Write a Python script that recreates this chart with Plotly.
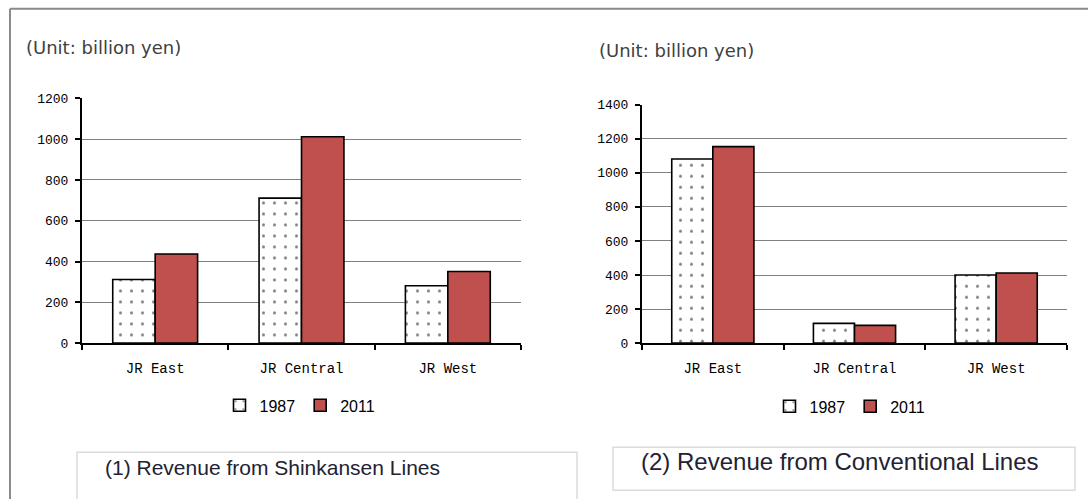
import plotly.graph_objects as go

companies = ["JR East", "JR Central", "JR West"]
years = ["1987", "2011"]

shinkansen_1987 = [312, 711, 281]
shinkansen_2011 = [437, 1012, 351]
conventional_1987 = [1081, 116, 400]
conventional_2011 = [1154, 104, 412]

W, H = 1088, 499
RED = "#C0504D"
TICK_FONT = dict(family="Liberation Mono, monospace", size=13, color="black")
CAT_FONT = dict(family="Liberation Mono, monospace", size=14, color="black")
TEXT_FONT = "Liberation Sans, Arial, sans-serif"

# the page comes out a bit squashed vertically, so positions are pre-stretched
Y_SCALE, Y_OFF = 0.971, 5.2


def px(x):
    return x / W


def py(y):
    return 1 - ((y - Y_OFF) / Y_SCALE) / H


def bar_pair(vals_old, vals_new, xa, ya, legend):
    old = go.Bar(
        x=companies, y=vals_old, name=years[0], xaxis=xa, yaxis=ya, legend=legend,
        marker=dict(
            color="white",
            line=dict(color="black", width=1.6),
            pattern=dict(shape=".", fgcolor="black", bgcolor="white", size=11, solidity=0.06),
        ),
    )
    new = go.Bar(
        x=companies, y=vals_new, name=years[1], xaxis=xa, yaxis=ya, legend=legend,
        marker=dict(color=RED, line=dict(color="black", width=1.6)),
    )
    return [old, new]


fig = go.Figure()
fig.add_traces(bar_pair(shinkansen_1987, shinkansen_2011, "x", "y", "legend"))
fig.add_traces(bar_pair(conventional_1987, conventional_2011, "x2", "y2", "legend2"))

xcommon = dict(
    type="category", showline=True, linecolor="black", linewidth=2,
    ticks="outside", tickson="boundaries", ticklen=5, tickwidth=2, tickcolor="black",
    showgrid=False, tickfont=CAT_FONT, ticklabelstandoff=11, fixedrange=True,
)
ycommon = dict(
    showline=True, linecolor="black", linewidth=2, ticks="outside", ticklen=5,
    tickwidth=2, tickcolor="black", showgrid=True, gridcolor="#808080", gridwidth=1.2,
    zeroline=False, tickfont=TICK_FONT, dtick=200, ticklabelstandoff=4,
    fixedrange=True,
)

legend_font = dict(family=TEXT_FONT, size=16, color="black")

fig.update_layout(
    width=W, height=H,
    margin=dict(l=0, r=0, t=0, b=0),
    paper_bgcolor="white", plot_bgcolor="white",
    barmode="group", bargap=0.42, bargroupgap=0,
    xaxis=dict(xcommon, domain=[px(82), px(521)], anchor="y"),
    yaxis=dict(ycommon, domain=[py(342.7), py(97.7)], range=[0, 1200], anchor="x"),
    xaxis2=dict(xcommon, domain=[px(642), px(1067)], anchor="y2"),
    yaxis2=dict(ycommon, domain=[py(342.7), py(104)], range=[0, 1400], anchor="x2"),
    legend=dict(
        orientation="h", x=px(300), y=py(405), xanchor="center", yanchor="middle",
        font=legend_font, itemwidth=30, bgcolor="rgba(0,0,0,0)",
    ),
    legend2=dict(
        orientation="h", x=px(850), y=py(406), xanchor="center", yanchor="middle",
        font=legend_font, itemwidth=30, bgcolor="rgba(0,0,0,0)",
    ),
    showlegend=True,
)

# outer frame (top and left edges visible)
fig.add_shape(type="line", xref="paper", yref="paper", x0=px(10), x1=1, y0=py(8), y1=py(8),
              line=dict(color="#8a8a8a", width=2))
fig.add_shape(type="line", xref="paper", yref="paper", x0=px(10), x1=px(10), y0=-0.05, y1=py(8),
              line=dict(color="#8a8a8a", width=2))

# caption boxes
fig.add_shape(type="rect", xref="paper", yref="paper", x0=px(77), x1=px(577), y0=py(515), y1=py(452),
              line=dict(color="#dcdcdc", width=1.5))
fig.add_shape(type="rect", xref="paper", yref="paper", x0=px(613), x1=px(1075), y0=py(490), y1=py(447),
              line=dict(color="#dcdcdc", width=1.5))

notes = [
    ("(Unit: billion yen)", 24, 47, 18, "DejaVu Sans, sans-serif", "#404040"),
    ("(Unit: billion yen)", 597, 50, 18, "DejaVu Sans, sans-serif", "#404040"),
    ("(1) Revenue from Shinkansen Lines", 103, 467, 21, TEXT_FONT, "#222233"),
    ("(2) Revenue from Conventional Lines", 639, 461, 24, TEXT_FONT, "#222233"),
]
for text, x, y, size, family, color in notes:
    fig.add_annotation(
        text=text, xref="paper", yref="paper", x=px(x), y=py(y),
        xanchor="left", yanchor="middle", showarrow=False,
        font=dict(family=family, size=size, color=color),
    )

page_fix = (
    "document.documentElement.style.margin='0';"
    "document.documentElement.style.overflow='hidden';"
    "document.body.style.margin='0';"
    "document.body.style.padding='0';"
    "document.body.style.overflow='hidden';"
)
fig.write_html("out.html", config={"displayModeBar": False}, post_script=page_fix)
